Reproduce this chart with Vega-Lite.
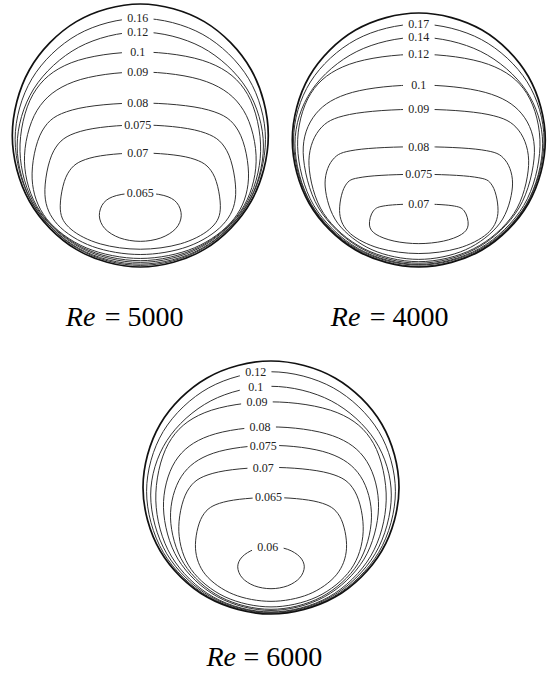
{
"$schema": "https://vega.github.io/schema/vega-lite/v6.json",
"background": "white",
"padding": {"left": 8, "top": 0, "right": 4, "bottom": 0},
"config": {"view": {"stroke": null}},
"datasets": {
"A": [
{"c":"circle","i":0,"x":0,"y":1},{"c":"circle","i":1,"x":0.5,"y":0.866},{"c":"circle","i":2,"x":0.866,"y":0.5},{"c":"circle","i":3,"x":1,"y":0},{"c":"circle","i":4,"x":0.866,"y":-0.5},{"c":"circle","i":5,"x":0.5,"y":-0.866},{"c":"circle","i":6,"x":0,"y":-1},{"c":"circle","i":7,"x":-0.5,"y":-0.866},{"c":"circle","i":8,"x":-0.866,"y":-0.5},{"c":"circle","i":9,"x":-1,"y":0},{"c":"circle","i":10,"x":-0.866,"y":0.5},{"c":"circle","i":11,"x":-0.5,"y":0.866},
{"c":"0.16","i":0,"x":0,"y":0.891},{"c":"0.16","i":1,"x":0.489,"y":0.768},{"c":"0.16","i":2,"x":0.847,"y":0.431},{"c":"0.16","i":3,"x":0.978,"y":-0.03},{"c":"0.16","i":4,"x":0.847,"y":-0.509},{"c":"0.16","i":5,"x":0.489,"y":-0.86},{"c":"0.16","i":6,"x":0,"y":-0.988},{"c":"0.16","i":7,"x":-0.489,"y":-0.86},{"c":"0.16","i":8,"x":-0.847,"y":-0.509},{"c":"0.16","i":9,"x":-0.978,"y":-0.03},{"c":"0.16","i":10,"x":-0.847,"y":0.431},{"c":"0.16","i":11,"x":-0.489,"y":0.768},
{"c":"0.12","i":0,"x":0,"y":0.787},{"c":"0.12","i":1,"x":0.481,"y":0.671},{"c":"0.12","i":2,"x":0.833,"y":0.354},{"c":"0.12","i":3,"x":0.962,"y":-0.08},{"c":"0.12","i":4,"x":0.833,"y":-0.529},{"c":"0.12","i":5,"x":0.481,"y":-0.858},{"c":"0.12","i":6,"x":0,"y":-0.978},{"c":"0.12","i":7,"x":-0.481,"y":-0.858},{"c":"0.12","i":8,"x":-0.833,"y":-0.529},{"c":"0.12","i":9,"x":-0.962,"y":-0.08},{"c":"0.12","i":10,"x":-0.833,"y":0.354},{"c":"0.12","i":11,"x":-0.481,"y":0.671},
{"c":"0.1","i":0,"x":0,"y":0.635},{"c":"0.1","i":1,"x":0.54,"y":0.553},{"c":"0.1","i":2,"x":0.838,"y":0.313},{"c":"0.1","i":3,"x":0.94,"y":-0.12},{"c":"0.1","i":4,"x":0.814,"y":-0.543},{"c":"0.1","i":5,"x":0.47,"y":-0.852},{"c":"0.1","i":6,"x":0,"y":-0.965},{"c":"0.1","i":7,"x":-0.47,"y":-0.852},{"c":"0.1","i":8,"x":-0.814,"y":-0.543},{"c":"0.1","i":9,"x":-0.94,"y":-0.12},{"c":"0.1","i":10,"x":-0.838,"y":0.313},{"c":"0.1","i":11,"x":-0.54,"y":0.553},
{"c":"0.09","i":0,"x":0,"y":0.483},{"c":"0.09","i":1,"x":0.519,"y":0.409},{"c":"0.09","i":2,"x":0.806,"y":0.192},{"c":"0.09","i":3,"x":0.905,"y":-0.2},{"c":"0.09","i":4,"x":0.784,"y":-0.576},{"c":"0.09","i":5,"x":0.453,"y":-0.851},{"c":"0.09","i":6,"x":0,"y":-0.952},{"c":"0.09","i":7,"x":-0.453,"y":-0.851},{"c":"0.09","i":8,"x":-0.784,"y":-0.576},{"c":"0.09","i":9,"x":-0.905,"y":-0.2},{"c":"0.09","i":10,"x":-0.806,"y":0.192},{"c":"0.09","i":11,"x":-0.519,"y":0.409},
{"c":"0.08","i":0,"x":0,"y":0.247},{"c":"0.08","i":1,"x":0.532,"y":0.194},{"c":"0.08","i":2,"x":0.767,"y":0.034},{"c":"0.08","i":3,"x":0.845,"y":-0.33},{"c":"0.08","i":4,"x":0.732,"y":-0.633},{"c":"0.08","i":5,"x":0.423,"y":-0.854},{"c":"0.08","i":6,"x":0,"y":-0.935},{"c":"0.08","i":7,"x":-0.423,"y":-0.854},{"c":"0.08","i":8,"x":-0.732,"y":-0.633},{"c":"0.08","i":9,"x":-0.845,"y":-0.33},{"c":"0.08","i":10,"x":-0.767,"y":0.034},{"c":"0.08","i":11,"x":-0.532,"y":0.194},
{"c":"0.075","i":0,"x":0,"y":0.08},{"c":"0.075","i":1,"x":0.469,"y":0.031},{"c":"0.075","i":2,"x":0.676,"y":-0.116},{"c":"0.075","i":3,"x":0.745,"y":-0.45},{"c":"0.075","i":4,"x":0.645,"y":-0.678},{"c":"0.075","i":5,"x":0.373,"y":-0.844},{"c":"0.075","i":6,"x":0,"y":-0.905},{"c":"0.075","i":7,"x":-0.373,"y":-0.844},{"c":"0.075","i":8,"x":-0.645,"y":-0.678},{"c":"0.075","i":9,"x":-0.745,"y":-0.45},{"c":"0.075","i":10,"x":-0.676,"y":-0.116},{"c":"0.075","i":11,"x":-0.469,"y":0.031},
{"c":"0.07","i":0,"x":0,"y":-0.133},{"c":"0.07","i":1,"x":0.394,"y":-0.172},{"c":"0.07","i":2,"x":0.568,"y":-0.291},{"c":"0.07","i":3,"x":0.625,"y":-0.56},{"c":"0.07","i":4,"x":0.541,"y":-0.713},{"c":"0.07","i":5,"x":0.313,"y":-0.824},{"c":"0.07","i":6,"x":0,"y":-0.865},{"c":"0.07","i":7,"x":-0.313,"y":-0.824},{"c":"0.07","i":8,"x":-0.541,"y":-0.713},{"c":"0.07","i":9,"x":-0.625,"y":-0.56},{"c":"0.07","i":10,"x":-0.568,"y":-0.291},{"c":"0.07","i":11,"x":-0.394,"y":-0.172},
{"c":"0.065","i":0,"x":0,"y":-0.437},{"c":"0.065","i":1,"x":0.184,"y":-0.456},{"c":"0.065","i":2,"x":0.285,"y":-0.511},{"c":"0.065","i":3,"x":0.32,"y":-0.61},{"c":"0.065","i":4,"x":0.277,"y":-0.708},{"c":"0.065","i":5,"x":0.16,"y":-0.779},{"c":"0.065","i":6,"x":0,"y":-0.805},{"c":"0.065","i":7,"x":-0.16,"y":-0.779},{"c":"0.065","i":8,"x":-0.277,"y":-0.708},{"c":"0.065","i":9,"x":-0.32,"y":-0.61},{"c":"0.065","i":10,"x":-0.285,"y":-0.511},{"c":"0.065","i":11,"x":-0.184,"y":-0.456}
],
"B": [
{"c":"circle","i":0,"x":0,"y":1},{"c":"circle","i":1,"x":0.5,"y":0.866},{"c":"circle","i":2,"x":0.866,"y":0.5},{"c":"circle","i":3,"x":1,"y":0},{"c":"circle","i":4,"x":0.866,"y":-0.5},{"c":"circle","i":5,"x":0.5,"y":-0.866},{"c":"circle","i":6,"x":0,"y":-1},{"c":"circle","i":7,"x":-0.5,"y":-0.866},{"c":"circle","i":8,"x":-0.866,"y":-0.5},{"c":"circle","i":9,"x":-1,"y":0},{"c":"circle","i":10,"x":-0.866,"y":0.5},{"c":"circle","i":11,"x":-0.5,"y":0.866},
{"c":"0.17","i":0,"x":0,"y":0.913},{"c":"0.17","i":1,"x":0.495,"y":0.791},{"c":"0.17","i":2,"x":0.857,"y":0.457},{"c":"0.17","i":3,"x":0.99,"y":0},{"c":"0.17","i":4,"x":0.857,"y":-0.498},{"c":"0.17","i":5,"x":0.495,"y":-0.862},{"c":"0.17","i":6,"x":0,"y":-0.995},{"c":"0.17","i":7,"x":-0.495,"y":-0.862},{"c":"0.17","i":8,"x":-0.857,"y":-0.498},{"c":"0.17","i":9,"x":-0.99,"y":0},{"c":"0.17","i":10,"x":-0.857,"y":0.457},{"c":"0.17","i":11,"x":-0.495,"y":0.791},
{"c":"0.14","i":0,"x":0,"y":0.809},{"c":"0.14","i":1,"x":0.49,"y":0.697},{"c":"0.14","i":2,"x":0.848,"y":0.39},{"c":"0.14","i":3,"x":0.979,"y":-0.03},{"c":"0.14","i":4,"x":0.848,"y":-0.508},{"c":"0.14","i":5,"x":0.49,"y":-0.857},{"c":"0.14","i":6,"x":0,"y":-0.985},{"c":"0.14","i":7,"x":-0.49,"y":-0.857},{"c":"0.14","i":8,"x":-0.848,"y":-0.508},{"c":"0.14","i":9,"x":-0.979,"y":-0.03},{"c":"0.14","i":10,"x":-0.848,"y":0.39},{"c":"0.14","i":11,"x":-0.49,"y":0.697},
{"c":"0.12","i":0,"x":0,"y":0.675},{"c":"0.12","i":1,"x":0.55,"y":0.596},{"c":"0.12","i":2,"x":0.854,"y":0.366},{"c":"0.12","i":3,"x":0.958,"y":-0.05},{"c":"0.12","i":4,"x":0.83,"y":-0.515},{"c":"0.12","i":5,"x":0.479,"y":-0.855},{"c":"0.12","i":6,"x":0,"y":-0.98},{"c":"0.12","i":7,"x":-0.479,"y":-0.855},{"c":"0.12","i":8,"x":-0.83,"y":-0.515},{"c":"0.12","i":9,"x":-0.958,"y":-0.05},{"c":"0.12","i":10,"x":-0.854,"y":0.366},{"c":"0.12","i":11,"x":-0.55,"y":0.596},
{"c":"0.1","i":0,"x":0,"y":0.433},{"c":"0.1","i":1,"x":0.525,"y":0.375},{"c":"0.1","i":2,"x":0.814,"y":0.206},{"c":"0.1","i":3,"x":0.914,"y":-0.1},{"c":"0.1","i":4,"x":0.792,"y":-0.535},{"c":"0.1","i":5,"x":0.457,"y":-0.853},{"c":"0.1","i":6,"x":0,"y":-0.97},{"c":"0.1","i":7,"x":-0.457,"y":-0.853},{"c":"0.1","i":8,"x":-0.792,"y":-0.535},{"c":"0.1","i":9,"x":-0.914,"y":-0.1},{"c":"0.1","i":10,"x":-0.814,"y":0.206},{"c":"0.1","i":11,"x":-0.525,"y":0.375},
{"c":"0.09","i":0,"x":0,"y":0.242},{"c":"0.09","i":1,"x":0.547,"y":0.201},{"c":"0.09","i":2,"x":0.788,"y":0.078},{"c":"0.09","i":3,"x":0.868,"y":-0.2},{"c":"0.09","i":4,"x":0.752,"y":-0.579},{"c":"0.09","i":5,"x":0.434,"y":-0.856},{"c":"0.09","i":6,"x":0,"y":-0.958},{"c":"0.09","i":7,"x":-0.434,"y":-0.856},{"c":"0.09","i":8,"x":-0.752,"y":-0.579},{"c":"0.09","i":9,"x":-0.868,"y":-0.2},{"c":"0.09","i":10,"x":-0.788,"y":0.078},{"c":"0.09","i":11,"x":-0.547,"y":0.201},
{"c":"0.08","i":0,"x":0,"y":-0.053},{"c":"0.08","i":1,"x":0.498,"y":-0.078},{"c":"0.08","i":2,"x":0.682,"y":-0.157},{"c":"0.08","i":3,"x":0.74,"y":-0.37},{"c":"0.08","i":4,"x":0.641,"y":-0.655},{"c":"0.08","i":5,"x":0.37,"y":-0.864},{"c":"0.08","i":6,"x":0,"y":-0.94},{"c":"0.08","i":7,"x":-0.37,"y":-0.864},{"c":"0.08","i":8,"x":-0.641,"y":-0.655},{"c":"0.08","i":9,"x":-0.74,"y":-0.37},{"c":"0.08","i":10,"x":-0.682,"y":-0.157},{"c":"0.08","i":11,"x":-0.498,"y":-0.078},
{"c":"0.075","i":0,"x":0,"y":-0.27},{"c":"0.075","i":1,"x":0.442,"y":-0.292},{"c":"0.075","i":2,"x":0.582,"y":-0.361},{"c":"0.075","i":3,"x":0.625,"y":-0.58},{"c":"0.075","i":4,"x":0.541,"y":-0.737},{"c":"0.075","i":5,"x":0.313,"y":-0.852},{"c":"0.075","i":6,"x":0,"y":-0.894},{"c":"0.075","i":7,"x":-0.313,"y":-0.852},{"c":"0.075","i":8,"x":-0.541,"y":-0.737},{"c":"0.075","i":9,"x":-0.625,"y":-0.58},{"c":"0.075","i":10,"x":-0.582,"y":-0.361},{"c":"0.075","i":11,"x":-0.442,"y":-0.292},
{"c":"0.07","i":0,"x":0,"y":-0.504},{"c":"0.07","i":1,"x":0.262,"y":-0.517},{"c":"0.07","i":2,"x":0.359,"y":-0.558},{"c":"0.07","i":3,"x":0.39,"y":-0.67},{"c":"0.07","i":4,"x":0.338,"y":-0.743},{"c":"0.07","i":5,"x":0.195,"y":-0.796},{"c":"0.07","i":6,"x":0,"y":-0.816},{"c":"0.07","i":7,"x":-0.195,"y":-0.796},{"c":"0.07","i":8,"x":-0.338,"y":-0.743},{"c":"0.07","i":9,"x":-0.39,"y":-0.67},{"c":"0.07","i":10,"x":-0.359,"y":-0.558},{"c":"0.07","i":11,"x":-0.262,"y":-0.517}
],
"C": [
{"c":"circle","i":0,"x":0,"y":1},{"c":"circle","i":1,"x":0.5,"y":0.866},{"c":"circle","i":2,"x":0.866,"y":0.5},{"c":"circle","i":3,"x":1,"y":0},{"c":"circle","i":4,"x":0.866,"y":-0.5},{"c":"circle","i":5,"x":0.5,"y":-0.866},{"c":"circle","i":6,"x":0,"y":-1},{"c":"circle","i":7,"x":-0.5,"y":-0.866},{"c":"circle","i":8,"x":-0.866,"y":-0.5},{"c":"circle","i":9,"x":-1,"y":0},{"c":"circle","i":10,"x":-0.866,"y":0.5},{"c":"circle","i":11,"x":-0.5,"y":0.866},
{"c":"0.12","i":0,"x":0,"y":0.915},{"c":"0.12","i":1,"x":0.486,"y":0.788},{"c":"0.12","i":2,"x":0.842,"y":0.443},{"c":"0.12","i":3,"x":0.972,"y":-0.03},{"c":"0.12","i":4,"x":0.842,"y":-0.512},{"c":"0.12","i":5,"x":0.486,"y":-0.865},{"c":"0.12","i":6,"x":0,"y":-0.994},{"c":"0.12","i":7,"x":-0.486,"y":-0.865},{"c":"0.12","i":8,"x":-0.842,"y":-0.512},{"c":"0.12","i":9,"x":-0.972,"y":-0.03},{"c":"0.12","i":10,"x":-0.842,"y":0.443},{"c":"0.12","i":11,"x":-0.486,"y":0.788},
{"c":"0.1","i":0,"x":0,"y":0.8},{"c":"0.1","i":1,"x":0.47,"y":0.685},{"c":"0.1","i":2,"x":0.814,"y":0.37},{"c":"0.1","i":3,"x":0.94,"y":-0.06},{"c":"0.1","i":4,"x":0.814,"y":-0.524},{"c":"0.1","i":5,"x":0.47,"y":-0.864},{"c":"0.1","i":6,"x":0,"y":-0.988},{"c":"0.1","i":7,"x":-0.47,"y":-0.864},{"c":"0.1","i":8,"x":-0.814,"y":-0.524},{"c":"0.1","i":9,"x":-0.94,"y":-0.06},{"c":"0.1","i":10,"x":-0.814,"y":0.37},{"c":"0.1","i":11,"x":-0.47,"y":0.685},
{"c":"0.09","i":0,"x":0,"y":0.677},{"c":"0.09","i":1,"x":0.517,"y":0.592},{"c":"0.09","i":2,"x":0.802,"y":0.346},{"c":"0.09","i":3,"x":0.9,"y":-0.1},{"c":"0.09","i":4,"x":0.779,"y":-0.542},{"c":"0.09","i":5,"x":0.45,"y":-0.866},{"c":"0.09","i":6,"x":0,"y":-0.984},{"c":"0.09","i":7,"x":-0.45,"y":-0.866},{"c":"0.09","i":8,"x":-0.779,"y":-0.542},{"c":"0.09","i":9,"x":-0.9,"y":-0.1},{"c":"0.09","i":10,"x":-0.802,"y":0.346},{"c":"0.09","i":11,"x":-0.517,"y":0.592},
{"c":"0.08","i":0,"x":0,"y":0.479},{"c":"0.08","i":1,"x":0.482,"y":0.409},{"c":"0.08","i":2,"x":0.748,"y":0.207},{"c":"0.08","i":3,"x":0.84,"y":-0.16},{"c":"0.08","i":4,"x":0.727,"y":-0.566},{"c":"0.08","i":5,"x":0.42,"y":-0.863},{"c":"0.08","i":6,"x":0,"y":-0.972},{"c":"0.08","i":7,"x":-0.42,"y":-0.863},{"c":"0.08","i":8,"x":-0.727,"y":-0.566},{"c":"0.08","i":9,"x":-0.84,"y":-0.16},{"c":"0.08","i":10,"x":-0.748,"y":0.207},{"c":"0.08","i":11,"x":-0.482,"y":0.409},
{"c":"0.075","i":0,"x":0,"y":0.333},{"c":"0.075","i":1,"x":0.451,"y":0.271},{"c":"0.075","i":2,"x":0.699,"y":0.089},{"c":"0.075","i":3,"x":0.785,"y":-0.24},{"c":"0.075","i":4,"x":0.68,"y":-0.602},{"c":"0.075","i":5,"x":0.393,"y":-0.866},{"c":"0.075","i":6,"x":0,"y":-0.963},{"c":"0.075","i":7,"x":-0.393,"y":-0.866},{"c":"0.075","i":8,"x":-0.68,"y":-0.602},{"c":"0.075","i":9,"x":-0.785,"y":-0.24},{"c":"0.075","i":10,"x":-0.699,"y":0.089},{"c":"0.075","i":11,"x":-0.451,"y":0.271},
{"c":"0.07","i":0,"x":0,"y":0.159},{"c":"0.07","i":1,"x":0.454,"y":0.112},{"c":"0.07","i":2,"x":0.654,"y":-0.029},{"c":"0.07","i":3,"x":0.72,"y":-0.35},{"c":"0.07","i":4,"x":0.624,"y":-0.647},{"c":"0.07","i":5,"x":0.36,"y":-0.864},{"c":"0.07","i":6,"x":0,"y":-0.944},{"c":"0.07","i":7,"x":-0.36,"y":-0.864},{"c":"0.07","i":8,"x":-0.624,"y":-0.647},{"c":"0.07","i":9,"x":-0.72,"y":-0.35},{"c":"0.07","i":10,"x":-0.654,"y":-0.029},{"c":"0.07","i":11,"x":-0.454,"y":0.112},
{"c":"0.065","i":0,"x":0,"y":-0.079},{"c":"0.065","i":1,"x":0.372,"y":-0.116},{"c":"0.065","i":2,"x":0.536,"y":-0.227},{"c":"0.065","i":3,"x":0.59,"y":-0.48},{"c":"0.065","i":4,"x":0.511,"y":-0.69},{"c":"0.065","i":5,"x":0.295,"y":-0.844},{"c":"0.065","i":6,"x":0,"y":-0.9},{"c":"0.065","i":7,"x":-0.295,"y":-0.844},{"c":"0.065","i":8,"x":-0.511,"y":-0.69},{"c":"0.065","i":9,"x":-0.59,"y":-0.48},{"c":"0.065","i":10,"x":-0.536,"y":-0.227},{"c":"0.065","i":11,"x":-0.372,"y":-0.116},
{"c":"0.06","i":0,"x":0,"y":-0.468},{"c":"0.06","i":1,"x":0.13,"y":-0.489},{"c":"0.06","i":2,"x":0.225,"y":-0.548},{"c":"0.06","i":3,"x":0.26,"y":-0.627},{"c":"0.06","i":4,"x":0.225,"y":-0.714},{"c":"0.06","i":5,"x":0.13,"y":-0.777},{"c":"0.06","i":6,"x":0,"y":-0.8},{"c":"0.06","i":7,"x":-0.13,"y":-0.777},{"c":"0.06","i":8,"x":-0.225,"y":-0.714},{"c":"0.06","i":9,"x":-0.26,"y":-0.627},{"c":"0.06","i":10,"x":-0.225,"y":-0.548},{"c":"0.06","i":11,"x":-0.13,"y":-0.489}
],
"LA": [
{"c":"0.16","x":-0.02,"y":0.891},{"c":"0.12","x":-0.02,"y":0.787},{"c":"0.1","x":-0.02,"y":0.635},{"c":"0.09","x":-0.02,"y":0.483},{"c":"0.08","x":-0.02,"y":0.247},{"c":"0.075","x":-0.02,"y":0.08},{"c":"0.07","x":-0.02,"y":-0.133},{"c":"0.065","x":0,"y":-0.437}
],
"LB": [
{"c":"0.17","x":0,"y":0.913},{"c":"0.14","x":0,"y":0.809},{"c":"0.12","x":0,"y":0.675},{"c":"0.1","x":0,"y":0.433},{"c":"0.09","x":0,"y":0.242},{"c":"0.08","x":0,"y":-0.053},{"c":"0.075","x":0,"y":-0.27},{"c":"0.07","x":0,"y":-0.504}
],
"LC": [
{"c":"0.12","x":-0.12,"y":0.91},{"c":"0.1","x":-0.12,"y":0.795},{"c":"0.09","x":-0.11,"y":0.672},{"c":"0.08","x":-0.085,"y":0.476},{"c":"0.075","x":-0.06,"y":0.331},{"c":"0.07","x":-0.06,"y":0.157},{"c":"0.065","x":-0.02,"y":-0.079},{"c":"0.06","x":-0.025,"y":-0.468}
]
},
"vconcat": [
{
"hconcat": [
{
"width": 256, "height": 263,
"layer": [
{"data": {"name": "A"}, "transform": [{"filter": "datum.c != 'circle'"}], "mark": {"type": "line", "interpolate": "cardinal-closed", "stroke": "#333333", "strokeWidth": 1}, "encoding": {"x": {"field": "x", "type": "quantitative", "scale": {"domain": [-1, 1], "nice": false, "zero": false}, "axis": {"domain": false, "ticks": false, "labels": false, "grid": false, "title": "Re", "titleFont": "Liberation Serif, serif", "titleFontSize": 28, "titleFontStyle": "italic", "titleFontWeight": "normal", "titleColor": "black", "titleAlign": "left", "titleBaseline": "alphabetic", "titleX": 53, "titleY": 58}}, "y": {"field": "y", "type": "quantitative", "scale": {"domain": [-1, 1], "nice": false, "zero": false}, "axis": {"domain": false, "ticks": false, "labels": false, "grid": false, "title": "= 5000", "titleFont": "Liberation Serif, serif", "titleFontSize": 28, "titleFontWeight": "normal", "titleColor": "black", "titleAngle": 0, "titleAlign": "left", "titleBaseline": "alphabetic", "titleX": 92, "titleY": 321}}, "order": {"field": "i", "type": "quantitative"}, "detail": {"field": "c"}}},
{"data": {"name": "A"}, "transform": [{"filter": "datum.c == 'circle'"}], "mark": {"type": "line", "interpolate": "cardinal-closed", "stroke": "#111111", "strokeWidth": 1.7}, "encoding": {"x": {"field": "x", "type": "quantitative"}, "y": {"field": "y", "type": "quantitative"}, "order": {"field": "i", "type": "quantitative"}}},
{"data": {"name": "LA"}, "mark": {"type": "point", "shape": "M-1,-0.3H1V0.3H-1Z", "filled": true, "fill": "white", "strokeWidth": 0, "size": 1000, "opacity": 1}, "encoding": {"x": {"field": "x", "type": "quantitative"}, "y": {"field": "y", "type": "quantitative"}}},
{"data": {"name": "LA"}, "mark": {"type": "text", "font": "Liberation Serif, serif", "fontSize": 12, "fill": "#222222", "align": "center", "baseline": "middle"}, "encoding": {"x": {"field": "x", "type": "quantitative"}, "y": {"field": "y", "type": "quantitative"}, "text": {"field": "c"}}}
]
},
{
"width": 253, "height": 263,
"layer": [
{"data": {"name": "B"}, "transform": [{"filter": "datum.c != 'circle'"}], "mark": {"type": "line", "interpolate": "cardinal-closed", "stroke": "#333333", "strokeWidth": 1}, "encoding": {"x": {"field": "x", "type": "quantitative", "scale": {"domain": [-1, 1], "nice": false, "zero": false}, "axis": {"domain": false, "ticks": false, "labels": false, "grid": false, "title": "Re", "titleFont": "Liberation Serif, serif", "titleFontSize": 28, "titleFontStyle": "italic", "titleFontWeight": "normal", "titleColor": "black", "titleAlign": "left", "titleBaseline": "alphabetic", "titleX": 38, "titleY": 58}}, "y": {"field": "y", "type": "quantitative", "scale": {"domain": [-1, 1.071], "nice": false, "zero": false}, "axis": {"domain": false, "ticks": false, "labels": false, "grid": false, "title": "= 4000", "titleFont": "Liberation Serif, serif", "titleFontSize": 28, "titleFontWeight": "normal", "titleColor": "black", "titleAngle": 0, "titleAlign": "left", "titleBaseline": "alphabetic", "titleX": 77, "titleY": 321}}, "order": {"field": "i", "type": "quantitative"}, "detail": {"field": "c"}}},
{"data": {"name": "B"}, "transform": [{"filter": "datum.c == 'circle'"}], "mark": {"type": "line", "interpolate": "cardinal-closed", "stroke": "#111111", "strokeWidth": 1.7}, "encoding": {"x": {"field": "x", "type": "quantitative"}, "y": {"field": "y", "type": "quantitative"}, "order": {"field": "i", "type": "quantitative"}}},
{"data": {"name": "LB"}, "mark": {"type": "point", "shape": "M-1,-0.3H1V0.3H-1Z", "filled": true, "fill": "white", "strokeWidth": 0, "size": 1000, "opacity": 1}, "encoding": {"x": {"field": "x", "type": "quantitative"}, "y": {"field": "y", "type": "quantitative"}}},
{"data": {"name": "LB"}, "mark": {"type": "text", "font": "Liberation Serif, serif", "fontSize": 12, "fill": "#222222", "align": "center", "baseline": "middle"}, "encoding": {"x": {"field": "x", "type": "quantitative"}, "y": {"field": "y", "type": "quantitative"}, "text": {"field": "c"}}}
]
}
],
"spacing": 24,
"bounds": "flush"
},
{
"width": 275, "height": 253,
"layer": [
{"data": {"name": "C"}, "transform": [{"filter": "datum.c != 'circle'"}], "mark": {"type": "line", "interpolate": "cardinal-closed", "stroke": "#333333", "strokeWidth": 1}, "encoding": {"x": {"field": "x", "type": "quantitative", "scale": {"domain": [-1, 1.1484], "nice": false, "zero": false}, "axis": {"domain": false, "ticks": false, "labels": false, "grid": false, "title": "Re", "titleFont": "Liberation Serif, serif", "titleFontSize": 28, "titleFontStyle": "italic", "titleFontWeight": "normal", "titleColor": "black", "titleAlign": "left", "titleBaseline": "alphabetic", "titleX": 63, "titleY": 51}}, "y": {"field": "y", "type": "quantitative", "scale": {"domain": [-1, 1], "nice": false, "zero": false}, "axis": {"domain": false, "ticks": false, "labels": false, "grid": false, "title": "=  6000", "titleFont": "Liberation Serif, serif", "titleFontSize": 28, "titleFontWeight": "normal", "titleColor": "black", "titleAngle": 0, "titleAlign": "left", "titleBaseline": "alphabetic", "titleX": 100, "titleY": 304}}, "order": {"field": "i", "type": "quantitative"}, "detail": {"field": "c"}}},
{"data": {"name": "C"}, "transform": [{"filter": "datum.c == 'circle'"}], "mark": {"type": "line", "interpolate": "cardinal-closed", "stroke": "#111111", "strokeWidth": 1.7}, "encoding": {"x": {"field": "x", "type": "quantitative"}, "y": {"field": "y", "type": "quantitative"}, "order": {"field": "i", "type": "quantitative"}}},
{"data": {"name": "LC"}, "mark": {"type": "point", "shape": "M-1,-0.3H1V0.3H-1Z", "filled": true, "fill": "white", "strokeWidth": 0, "size": 1000, "opacity": 1}, "encoding": {"x": {"field": "x", "type": "quantitative"}, "y": {"field": "y", "type": "quantitative"}}},
{"data": {"name": "LC"}, "mark": {"type": "text", "font": "Liberation Serif, serif", "fontSize": 12, "fill": "#222222", "align": "center", "baseline": "middle"}, "encoding": {"x": {"field": "x", "type": "quantitative"}, "y": {"field": "y", "type": "quantitative"}, "text": {"field": "c"}}}
]
}
],
"spacing": 26,
"center": true
}
